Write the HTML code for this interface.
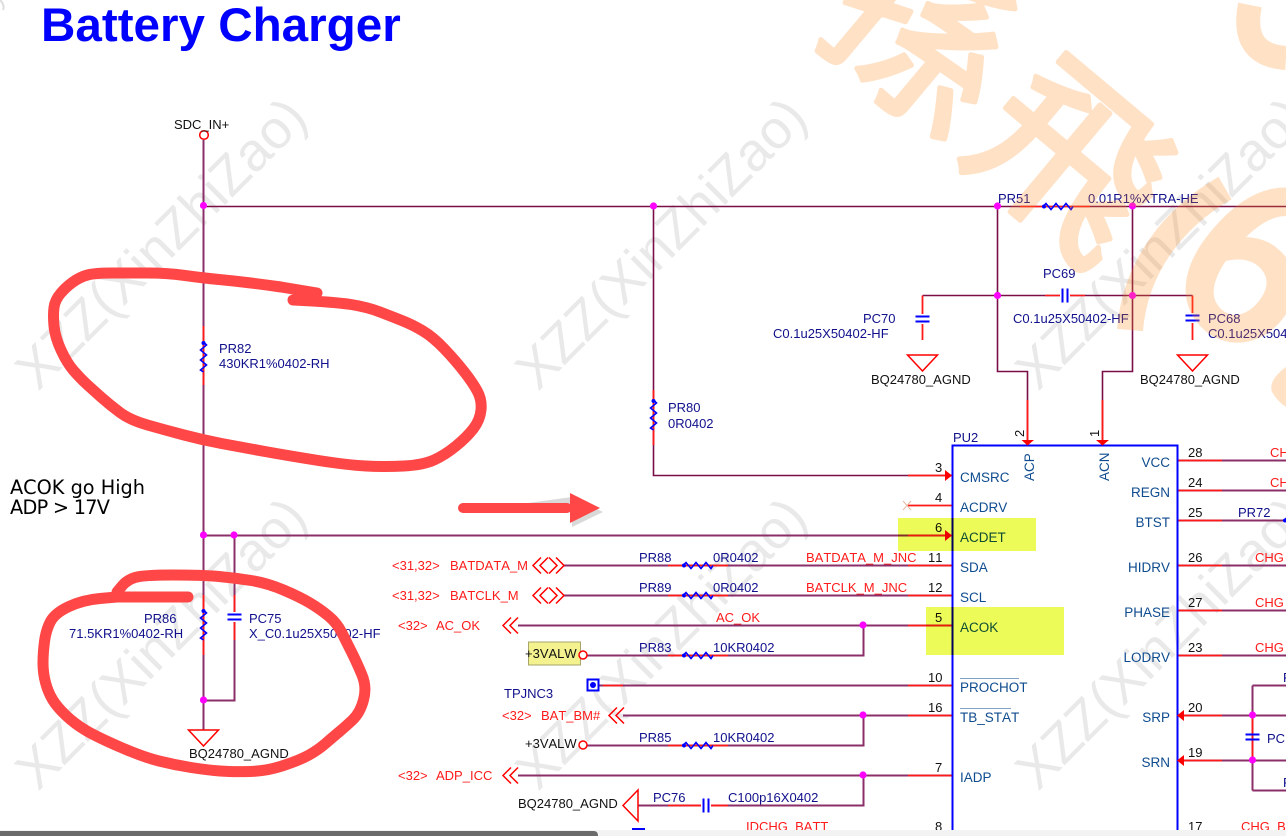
<!DOCTYPE html>
<html><head><meta charset="utf-8"><style>
html,body{margin:0;padding:0;background:#fff;width:1286px;height:836px;overflow:hidden}
svg{display:block;position:absolute;left:0;top:0}
text{font-family:"Liberation Sans",sans-serif;font-size:13px;font-kerning:none}
.n{fill:#10108c}.k{fill:#111}.r{fill:#ff1a1a}.p{fill:#0f4c8f;font-size:13.5px}.e{text-anchor:end}
.wm{font-size:54px;fill:#e9e9e9}
.w{stroke:#8b2f68;stroke-width:2;fill:none}
.t{stroke:#7a0f48;stroke-width:1.6;fill:none}
.s{stroke:#ff1a1a;stroke-width:1.8;fill:none}
.b{stroke:#0000ff;stroke-width:1.8;fill:none}
.c{fill:none;stroke:#ff0000;stroke-width:1.5}
.d{fill:#ff00ff}
.m{stroke:#ff4747;stroke-width:11;fill:none;stroke-linecap:round;stroke-linejoin:round}
.or text{fill:#ff8a1f;stroke:#ff8a1f;stroke-width:5;stroke-linejoin:round;font-family:"Noto Sans CJK TC",sans-serif;font-weight:normal}
</style></head><body>
<svg width="1286" height="836" viewBox="0 0 1286 836" xmlns="http://www.w3.org/2000/svg">
<defs>
<g id="R"><path d="M0 0L3 -3L8 3L13 -3L18 3L23 -3L28 3L30 0" fill="none" stroke="#0000ff" stroke-width="1.6"/><circle cx="1" cy="0" r="2" fill="#0000ff"/></g>
<g id="V"><path d="M-7 -2.500H7M-7 2.500H7" fill="none" stroke="#0000ff" stroke-width="2"/></g>
<g id="H"><path d="M-2.500 -7V7M2.500 -7V7" fill="none" stroke="#0000ff" stroke-width="2"/></g>
<g id="G"><path d="M-15 0H15L0 16Z" fill="#fff" stroke="#ff0000" stroke-width="1.500"/></g>
<g id="L"><path d="M8 -8L0 0L8 8M15 -8L7 0L15 8" class="c"/></g>
<g id="B"><path d="M8 -8L0 0L8 8M15 -8L7 0L15 8M16 -8L24 0L16 8M23 -8L31 0L23 8" class="c"/></g>
</defs>

<!-- grey watermark -->
<path d="M0 0Q5 5 3 10" fill="none" stroke="#ddd" stroke-width="2"/>
<text class="wm" transform="translate(38 392) rotate(-45)">XZZ(XinZhiZao)</text>
<text class="wm" transform="translate(38 792) rotate(-45)">XZZ(XinZhiZao)</text>
<text class="wm" transform="translate(538 392) rotate(-45)">XZZ(XinZhiZao)</text>
<text class="wm" transform="translate(538 792) rotate(-45)">XZZ(XinZhiZao)</text>
<text class="wm" transform="translate(1038 392) rotate(-45)">XZZ(XinZhiZao)</text>
<text class="wm" transform="translate(1038 792) rotate(-45)">XZZ(XinZhiZao)</text>

<text x="41" y="41" font-weight="bold" fill="#0000ff" style="font-size:47.6px">Battery Charger</text>

<!-- wires -->
<path class="w" d="M203.500 140V730M203.500 535.500H945M234.500 535.500V700.500H203.500"/>
<path class="t" d="M203.500 206.500H1286M653.500 206.500V475.500H945M997.500 206.500V371.500H1027.500V440M1132.500 206.500V371.500H1102.500V440M922.500 295.500H1192.500"/>
<path class="w" d="M1252.500 685.500V790.500M1252.500 685.500H1286M1252.500 790.500H1286"/>
<path class="w" d="M563 565.500H952M563 595.500H952M518 625.500H952M587 655.500H863.500V625.500M599 685.500H952M623 715.500H952M587 745.500H863.500V715.500M518 775.500H952M638 805.500H863.500V775.500"/>
<path class="w" d="M1177 460.500H1286M1177 490.500H1286M1177 520.500H1286M1177 565.500H1286M1177 610.500H1286M1177 655.500H1286M1177 715.500H1286M1177 760.500H1286"/>
<!-- red stubs -->
<path class="s" d="M203.500 326V385M203.500 595V655M234.500 595V640M653.500 390V445M922.500 295.500V340M1192.500 295.500V340M1027.500 400V440M1102.500 400V440M1252.500 715V760"/>
<path class="s" d="M908 475.500H952M908 505.500H952M908 535.500H952M908 565.500H952M908 595.500H952M908 625.500H952M908 685.500H952M908 715.500H952M908 775.500H952"/>
<path class="s" d="M668 565.500H728M668 595.500H728M668 655.500H728M668 745.500H728M668 805.500H728M603 685.500H623M1177 460.500H1222M1177 490.500H1222M1177 520.500H1222M1177 565.500H1222M1177 610.500H1222M1177 655.500H1222M1177 715.500H1222M1177 760.500H1222"/>
<path class="s" d="M1020 206.500H1090M1045 295.500H1085M690 805.500H725" style="stroke-width:1.400"/>
<path d="M903 501L911 510M911 501L903 510" stroke="#e8b8a0" stroke-width="1" fill="none"/>

<!-- nodes -->
<g class="d">
<circle cx="203.500" cy="205.500" r="3.600"/><circle cx="653.500" cy="206" r="3.600"/><circle cx="997.500" cy="206" r="3.600"/><circle cx="1132.500" cy="206" r="3.600"/>
<circle cx="997.500" cy="295.500" r="3.600"/><circle cx="1132.500" cy="295.500" r="3.600"/>
<circle cx="203.500" cy="535" r="3.600"/><circle cx="234" cy="535" r="3.600"/><circle cx="203.500" cy="700" r="3.600"/>
<circle cx="863" cy="625" r="3.600"/><circle cx="863" cy="715" r="3.600"/><circle cx="863" cy="775" r="3.600"/>
<circle cx="1252.500" cy="715" r="3.600"/><circle cx="1252.500" cy="760" r="3.600"/>
</g>

<!-- resistors -->
<use href="#R" transform="translate(203.500 342) rotate(90)"/>
<use href="#R" transform="translate(203.500 610) rotate(90)"/>
<use href="#R" transform="translate(653.500 400) rotate(90)"/>
<use href="#R" transform="translate(1043 206.500)"/>
<use href="#R" transform="translate(683 565.500)"/>
<use href="#R" transform="translate(683 595.500)"/>
<use href="#R" transform="translate(683 655.500)"/>
<use href="#R" transform="translate(683 745.500)"/>
<use href="#R" transform="translate(1284 520.500)"/>

<!-- caps -->
<rect x="227" y="612" width="15" height="10" fill="#fff"/>
<use href="#V" transform="translate(234.500 617)"/>
<rect x="915" y="314" width="15" height="10" fill="#fff"/>
<use href="#V" transform="translate(922.500 319)"/>
<rect x="1185" y="313" width="15" height="10" fill="#fff"/>
<use href="#V" transform="translate(1192.500 318)"/>
<use href="#V" transform="translate(1252.500 737)"/>
<rect x="1060" y="289" width="10" height="14" fill="#fff"/>
<use href="#H" transform="translate(1065 295.500)"/>
<rect x="701" y="799" width="10" height="14" fill="#fff"/>
<use href="#H" transform="translate(706 805.500)"/>

<!-- grounds -->
<use href="#G" transform="translate(203.500 730)"/>
<use href="#G" transform="translate(922.500 355)"/>
<use href="#G" transform="translate(1192.500 355)"/>
<path d="M638 790L623 805.500L638 821Z" fill="#fff" stroke="#ff0000" stroke-width="1.500"/>

<!-- connectors -->
<circle cx="204" cy="135" r="4.300" fill="#fff" stroke="#ff0000" stroke-width="1.500"/>
<use href="#B" transform="translate(533 565.500)"/>
<use href="#B" transform="translate(533 595.500)"/>
<use href="#L" transform="translate(503 625.500)"/>
<use href="#L" transform="translate(609 715.500)"/>
<use href="#L" transform="translate(503 775.500)"/>

<!-- +3VALW -->
<rect x="528.500" y="642" width="52" height="23" fill="#f3f28e" stroke="#a6a66a"/>
<circle cx="583" cy="655" r="4" fill="#fff" stroke="#ff0000" stroke-width="1.500"/>
<circle cx="583" cy="745" r="4" fill="#fff" stroke="#ff0000" stroke-width="1.500"/>
<rect x="587.500" y="679.500" width="11" height="11" fill="#fff" stroke="#0000ff" stroke-width="2"/>
<circle cx="593" cy="685" r="3" fill="#0000ff"/>
<rect x="632" y="828" width="13" height="2" fill="#0000ff"/>

<!-- chip -->
<path class="b" d="M952.500 830V445.500H1177.500V830" style="stroke-width:2"/>
<path d="M945 470V481L952 475.500ZM945 530V541L952 535.500ZM1184 710V721L1177 715.500ZM1184 755V766L1177 760.500ZM1021.500 440H1034L1027.500 445.500ZM1096 440H1109L1102.500 445.500Z" fill="#ff0000"/>
<path d="M960 678.500H1019M960 708.500H1011" stroke="#7fa3c8" stroke-width="1"/>

<!-- pin numbers -->
<g class="k">
<text x="935" y="472">3</text><text x="935" y="502">4</text><text x="935" y="532">6</text>
<text x="928" y="562">11</text><text x="928" y="592">12</text><text x="935" y="622">5</text>
<text x="928" y="682">10</text><text x="928" y="712">16</text><text x="935" y="772">7</text><text x="935" y="831">8</text>
<text x="1188" y="457">28</text><text x="1188" y="487">24</text><text x="1188" y="517">25</text>
<text x="1188" y="562">26</text><text x="1188" y="607">27</text><text x="1188" y="652">23</text>
<text x="1188" y="712">20</text><text x="1188" y="757">19</text><text x="1188" y="831">17</text>
<text transform="translate(1024 437) rotate(-90)">2</text>
<text transform="translate(1099 437) rotate(-90)">1</text>
<text x="174" y="129">SDC_IN+</text>
<text x="189" y="758">BQ24780_AGND</text>
<text x="871" y="384">BQ24780_AGND</text>
<text x="1140" y="384">BQ24780_AGND</text>
<text x="518" y="808">BQ24780_AGND</text>
<text x="525" y="658">+3VALW</text>
<text x="525" y="748">+3VALW</text>
</g>

<!-- pin names -->
<g class="p">
<text class="p" x="960" y="482">CMSRC</text><text class="p" x="960" y="512">ACDRV</text><text class="p" x="960" y="542">ACDET</text>
<text class="p" x="960" y="572">SDA</text><text class="p" x="960" y="602">SCL</text><text class="p" x="960" y="632">ACOK</text>
<text class="p" x="960" y="692">PROCHOT</text><text class="p" x="960" y="722">TB_STAT</text><text class="p" x="960" y="782">IADP</text>
<text class="p e" x="1170" y="467">VCC</text><text class="p e" x="1170" y="497">REGN</text><text class="p e" x="1170" y="527">BTST</text>
<text class="p e" x="1170" y="572">HIDRV</text><text class="p e" x="1170" y="617">PHASE</text><text class="p e" x="1170" y="662">LODRV</text>
<text class="p e" x="1170" y="722">SRP</text><text class="p e" x="1170" y="767">SRN</text>
<text class="p" transform="translate(1034 481) rotate(-90)">ACP</text>
<text class="p" transform="translate(1109 481) rotate(-90)">ACN</text>
</g>

<!-- navy labels -->
<g class="n">
<text x="953" y="442">PU2</text>
<text x="219" y="353">PR82</text><text x="219" y="368">430KR1%0402-RH</text>
<text x="144" y="623">PR86</text><text x="69" y="638">71.5KR1%0402-RH</text>
<text x="249" y="623">PC75</text><text x="249" y="638">X_C0.1u25X50402-HF</text>
<text x="668" y="412">PR80</text><text x="668" y="428">0R0402</text>
<text x="998" y="203">PR51</text><text x="1088" y="203">0.01R1%XTRA-HE</text>
<text x="1043" y="278">PC69</text><text x="1013" y="323">C0.1u25X50402-HF</text>
<text x="863" y="323">PC70</text><text x="773" y="338">C0.1u25X50402-HF</text>
<text x="1208" y="323">PC68</text><text x="1208" y="338">C0.1u25X50402-HF</text>
<text x="639" y="562">PR88</text><text x="713" y="562">0R0402</text>
<text x="639" y="592">PR89</text><text x="713" y="592">0R0402</text>
<text x="639" y="652">PR83</text><text x="713" y="652">10KR0402</text>
<text x="639" y="742">PR85</text><text x="713" y="742">10KR0402</text>
<text x="653" y="802">PC76</text><text x="728" y="802">C100p16X0402</text>
<text x="504" y="698">TPJNC3</text>
<text x="1238" y="517">PR72</text>
<text x="1267" y="743">PC</text>
<text x="1283" y="682">F</text><text x="1283" y="787">F</text>
</g>

<!-- red labels -->
<g class="r">
<text x="392" y="570">&lt;31,32&gt;</text><text x="450" y="570">BATDATA_M</text>
<text x="392" y="600">&lt;31,32&gt;</text><text x="450" y="600">BATCLK_M</text>
<text x="398" y="630">&lt;32&gt;</text><text x="436" y="630">AC_OK</text>
<text x="502" y="720">&lt;32&gt;</text><text x="541" y="720">BAT_BM#</text>
<text x="398" y="780">&lt;32&gt;</text><text x="436" y="780">ADP_ICC</text>
<text x="806" y="562">BATDATA_M_JNC</text><text x="806" y="592">BATCLK_M_JNC</text>
<text x="716" y="622">AC_OK</text>
<text x="746" y="831">IDCHG_BATT</text>
<text x="1270" y="457">CHG</text><text x="1270" y="487">CHG</text>
<text x="1255" y="562">CHG</text><text x="1255" y="607">CHG</text><text x="1255" y="652">CHG</text>
<text x="1241" y="831">CHG_BAT</text>
</g>

<!-- note -->
<text x="10" y="494" textLength="135" style="font-family:'DejaVu Sans',sans-serif;font-size:19.300px">ACOK go High</text>
<text x="10" y="514" textLength="100" style="font-family:'DejaVu Sans',sans-serif;font-size:19.300px">ADP &gt; 17V</text>

<!-- highlights -->
<g style="mix-blend-mode:multiply"><rect x="898" y="518" width="138" height="33" fill="#ecfb58"/><rect x="926" y="607" width="138" height="48" fill="#ecfb58"/></g>

<!-- orange watermark, translucent overlay -->
<g class="or" opacity="0.25">
<text transform="translate(810 27) rotate(40)" style="font-size:184px;letter-spacing:9px">孫飛</text>
<text transform="translate(1160 282) rotate(40)" style="font-size:220px;stroke-width:11px">6</text>
<path d="M1225 188C1170 220 1135 270 1130 330" fill="none" stroke="#ff8a1f" stroke-width="26"/>
<path d="M1250 5Q1240 55 1286 58" fill="none" stroke="#ff8a1f" stroke-width="24"/>
<path d="M1286 367Q1268 380 1272 392Q1278 402 1286 407Z" fill="#ff8a1f"/>
</g>

<!-- hand-drawn -->
<path class="m" d="M317 293L281 287Q267 285 251 283Q235 281 219 279.500Q203 278 185 275.500Q167 273 148.500 273Q130 273 112.500 273Q95 273 87.500 275Q80 277 73 282Q66 287 60.500 293.500Q55 300 54 307.500Q53 315 54 326Q55 337 61 350Q67 363 73.500 370.500Q80 378 86.500 384Q93 390 101.500 397.500Q110 405 120 412.500Q130 420 147.500 425Q165 430 184 435Q203 440 221.500 443.500Q240 447 265 451.500Q290 456 318.500 460.500Q347 465 366 466Q385 467 404 466Q423 465 434 460Q445 455 456 446Q467 437 473.500 428.500Q480 420 481 410Q482 400 477.500 391.500Q473 383 464 371.500Q455 360 444 348.500Q433 337 423 331Q413 325 403 321Q393 317 380 312Q367 307 351 304.500Q335 302 293 300"/>
<path class="m" d="M188 597L117 597L100 598.500Q83 600 69 606.500Q55 613 50.500 621.500Q46 630 44.500 641.500Q43 653 43 663Q43 673 45.500 682.500Q48 692 52.500 699.500Q57 707 66 715.500Q75 724 86 730.500Q97 737 120 747Q143 757 159 761Q175 765 191 767.500Q207 770 220 771Q233 772 250 771.500Q267 771 283.500 765.500Q300 760 309 755Q318 750 325.500 743.500Q333 737 339 732Q345 727 352.500 720Q360 713 363.500 700Q367 687 362 675Q357 663 352 653Q347 643 342 633Q337 623 328.500 616Q320 609 310 603Q300 597 283.500 590Q267 583 251 580.500Q235 578 219 576.500Q203 575 173 575Q143 575 135 577.500Q127 580 122 586L117 592"/>

<!-- arrow -->
<path d="M463 512H572V527L603 512L572 497Z" fill="#000" opacity=".15"/>
<rect x="458" y="503" width="114" height="10" rx="5" fill="#ff4747"/>
<path d="M570 493L600 508L570 523Z" fill="#ff4747"/>

<!-- window bottom -->
<rect x="0" y="830" width="1286" height="6" fill="#f3f3f3"/>
<path d="M0 831H594Q598 831 598 836H0Z" fill="#6a6a6a"/>
</svg>
</body></html>
